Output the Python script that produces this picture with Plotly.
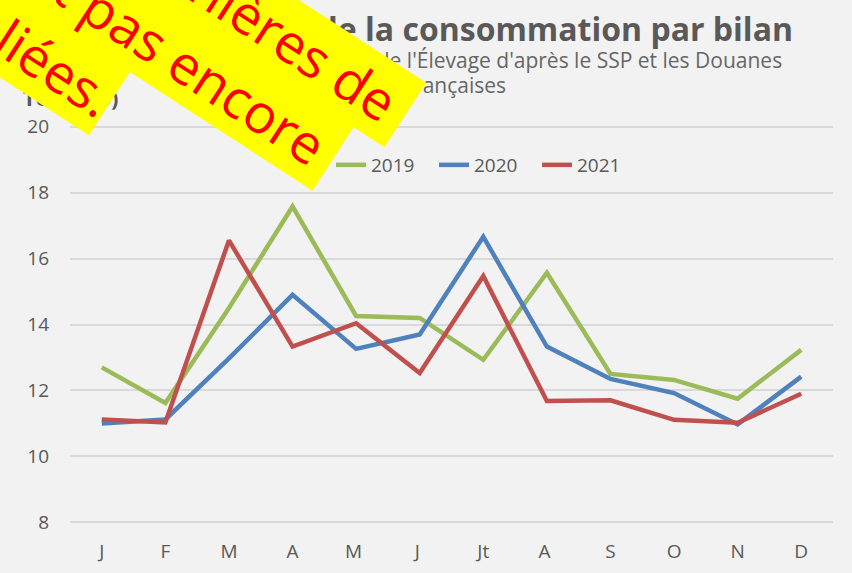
import plotly.graph_objects as go

months = ["J", "F", "M", "A", "M ", "J ", "Jt", "A ", "S", "O", "N", "D"]
y2019 = [12.70, 11.62, 14.50, 17.58, 14.26, 14.20, 12.93, 15.57, 12.50, 12.32, 11.75, 13.23]
y2020 = [11.00, 11.12, 12.97, 14.90, 13.26, 13.70, 16.66, 13.33, 12.35, 11.92, 10.97, 12.42]
y2021 = [11.12, 11.03, 16.55, 13.33, 14.04, 12.53, 15.47, 11.68, 11.70, 11.11, 11.02, 11.90]

series = [("2019", y2019, "#9BBB59"), ("2020", y2020, "#4F81BD"), ("2021", y2021, "#C0504D")]

banner_lines = [
    "Les données douanières de\u00a0",
    "novembre ne sont pas encore\u00a0",
    "publiées.",
]

W, H = 852, 573
L, R, T, B = 70, 19, 125, 49
GREY = "#595959"
FONT = "Open Sans"


def px(xp, yp):
    # pixel position on the page -> paper coordinates
    return (xp - L) / (W - L - R), (H - B - yp) / (H - T - B)


fig = go.Figure()
for name, vals, col in series:
    fig.add_trace(go.Scatter(
        x=months, y=vals, mode="lines", name=name,
        line=dict(color=col, width=4.5),
    ))

fig.update_layout(
    width=W, height=H,
    margin=dict(l=L, r=R, t=T, b=B, autoexpand=False),
    paper_bgcolor="#f2f2f2", plot_bgcolor="#f2f2f2",
    font=dict(family=FONT, color=GREY, size=19),
    xaxis=dict(type="category", categoryorder="array", categoryarray=months,
               range=[-0.5, 11.5], showgrid=False, zeroline=False,
               showline=False, ticks="", ticklabelstandoff=14, automargin=False,
               tickfont=dict(size=19, color=GREY)),
    yaxis=dict(range=[7.95, 20.05], tickvals=[8, 10, 12, 14, 16, 18, 20],
               showgrid=True, gridcolor="#d9d9d9", gridwidth=2, zeroline=False,
               showline=False, ticks="", ticklabelstandoff=20, automargin=False,
               tickfont=dict(size=19, color=GREY)),
    legend=dict(orientation="h", x=px(331, 0)[0], xanchor="left",
                y=px(0, 165)[1], yanchor="middle", bgcolor="rgba(0,0,0,0)",
                font=dict(size=19, color=GREY), entrywidth=58),
    showlegend=True,
)

# titles
x, y = px(795, 28)
fig.add_annotation(x=x, y=y, xref="paper", yref="paper", showarrow=False,
                   xanchor="right", yanchor="middle",
                   text="<b>Évolution de la consommation par bilan</b>",
                   font=dict(size=32, color=GREY, family=FONT))
x, y = px(784, 60)
fig.add_annotation(x=x, y=y, xref="paper", yref="paper", showarrow=False,
                   xanchor="right", yanchor="middle",
                   text="Source : Institut de l'Élevage d'après le SSP et les Douanes",
                   font=dict(size=21, color="#666666", family=FONT))
x, y = px(405, 85)
fig.add_annotation(x=x, y=y, xref="paper", yref="paper", showarrow=False,
                   xanchor="left", yanchor="middle", text="françaises",
                   font=dict(size=21, color="#666666", family=FONT))
x, y = px(21, 97)
fig.add_annotation(x=x, y=y, xref="paper", yref="paper", showarrow=False,
                   xanchor="left", yanchor="middle", text="<b>Téc (000)</b>",
                   font=dict(size=22, color=GREY, family=FONT))

# yellow banner (one highlighted box per line)
centers = [(108, -78), (11, -51), (13, 40)]
for txt, (cx, cy) in zip(banner_lines, centers):
    x, y = px(cx, cy)
    fig.add_annotation(x=x, y=y, xref="paper", yref="paper", showarrow=False,
                       xanchor="center", yanchor="middle", text=txt,
                       textangle=33, bgcolor="#ffff00", borderpad=1,
                       font=dict(size=54, color="#ff0000", family="Open Sans"))

fig.write_html(
    "out.html",
    config={"displayModeBar": False},
    post_script="document.body.style.margin='0';"
                "document.body.style.background='#f2f2f2';",
)
